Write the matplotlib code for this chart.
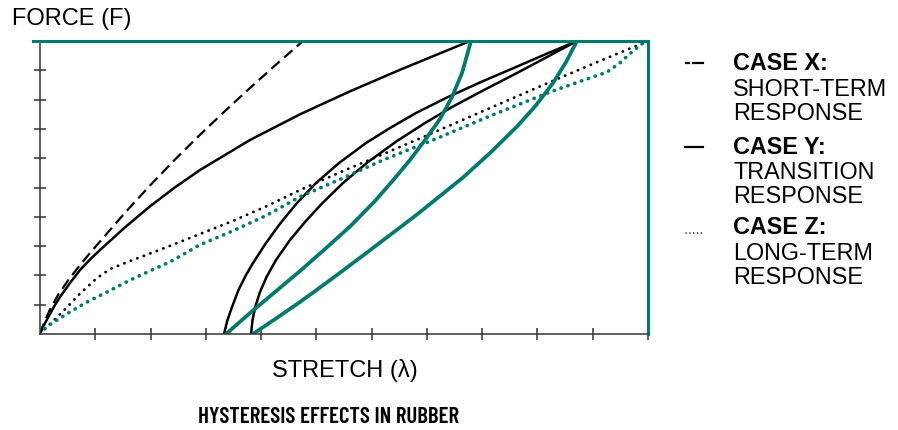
import matplotlib
matplotlib.use('Agg')
import matplotlib.pyplot as plt
from matplotlib.lines import Line2D

TEAL = '#00796e'
AXIS = '#333333'

# case X - short-term response (loading)
x_short = [0, 0.072, 0.181, 0.326, 0.507, 0.724, 0.905, 1.086, 1.538, 1.990, 2.443, 2.895, 3.347, 3.799, 4.252, 4.758]
f_short = [0, 0.375, 0.836, 1.331, 1.826, 2.355, 2.765, 3.157, 4.138, 5.068, 5.956, 6.800, 7.611, 8.396, 9.164, 10.0]

# case Y - transition response: loading
x_trans = [0, 0.054, 0.121, 0.181, 0.271, 0.362, 0.543, 0.724, 0.905, 1.086, 1.538, 1.990, 2.443, 2.895, 3.799, 4.704, 5.609, 6.513, 7.780]
f_trans = [0, 0.239, 0.478, 0.683, 0.990, 1.263, 1.741, 2.184, 2.543, 2.867, 3.642, 4.358, 5.007, 5.597, 6.621, 7.498, 8.283, 9.017, 10.0]

# case Y - reloading branches (black)
x_reload1 = [3.329, 3.392, 3.474, 3.591, 3.727, 3.854, 4.089, 4.352, 4.650, 4.994, 5.410, 5.898, 6.333, 6.803, 7.382, 7.979, 8.612, 9.155, 9.716]
f_reload1 = [0, 0.478, 0.922, 1.502, 2.014, 2.423, 3.106, 3.788, 4.471, 5.154, 5.836, 6.519, 7.031, 7.543, 8.089, 8.601, 9.113, 9.556, 10.0]
x_reload2 = [3.818, 3.845, 3.899, 3.980, 4.098, 4.270, 4.523, 4.795, 5.093, 5.482, 5.934, 6.459, 6.966, 7.454, 8.033, 8.630, 9.173, 9.716]
f_reload2 = [0, 0.478, 0.956, 1.433, 1.945, 2.526, 3.208, 3.823, 4.437, 5.154, 5.870, 6.587, 7.201, 7.747, 8.328, 8.908, 9.454, 10.0]

# unloading branches (teal)
x_unload1 = [3.365, 3.800, 4.252, 4.704, 5.157, 5.609, 6.061, 6.423, 6.694, 6.966, 7.237, 7.454, 7.635, 7.798]
f_unload1 = [0, 0.717, 1.433, 2.150, 2.901, 3.669, 4.539, 5.324, 5.939, 6.621, 7.338, 8.089, 8.908, 10.0]
x_unload2 = [3.853, 4.270, 4.704, 5.066, 5.482, 5.916, 6.369, 6.821, 7.237, 7.653, 8.142, 8.630, 8.956, 9.282, 9.517, 9.716]
f_unload2 = [0, 0.529, 1.092, 1.587, 2.167, 2.782, 3.430, 4.078, 4.710, 5.341, 6.177, 7.082, 7.765, 8.567, 9.283, 10.0]

# case Z - long-term response
x_long = [0, 0.18, 0.42, 0.72, 1.03, 1.27, 1.63, 2.30, 2.89, 3.49, 4.11, 4.70, 5.48, 6.21, 6.93, 8.14, 9.23, 10.13, 11.0]
f_long = [0, 0.34, 0.78, 1.37, 1.91, 2.22, 2.49, 2.97, 3.41, 3.86, 4.37, 4.91, 5.56, 6.14, 6.72, 7.71, 8.60, 9.32, 10.0]
x_long_un = [0, 0.05, 0.18, 0.31, 0.54, 0.85, 1.21, 1.63, 1.95, 2.35, 2.89, 3.49, 4.11, 4.70, 5.48, 6.21, 7.11, 8.14, 9.23, 9.95, 10.26, 10.49, 10.73, 10.96]
f_long_un = [0, 0.14, 0.32, 0.48, 0.75, 1.09, 1.43, 1.84, 2.12, 2.46, 3.04, 3.52, 4.06, 4.68, 5.32, 5.94, 6.62, 7.44, 8.26, 8.74, 8.94, 9.25, 9.66, 10.0]

x_ticks = list(range(1, 12))
f_ticks = list(range(1, 10))

legend_heads = ['CASE X:', 'CASE Y:', 'CASE Z:']
legend_lines = [['SHORT-TERM', 'RESPONSE'], ['TRANSITION', 'RESPONSE'], ['LONG-TERM', 'RESPONSE']]

plt.rcParams['font.family'] = ['Liberation Sans', 'DejaVu Sans']

W, H = 898, 430
fig = plt.figure(figsize=(W / 100, H / 100), dpi=100)
ax = fig.add_axes([40 / W, (H - 334) / H, 608 / W, 293 / H])

ax.plot(x_short, f_short, color='black', lw=1.6, linestyle=(0, (5, 2.6)))
ax.plot(x_trans, f_trans, color='black', lw=1.8)
ax.plot(x_reload1, f_reload1, color='black', lw=1.8)
ax.plot(x_reload2, f_reload2, color='black', lw=1.8)
ax.plot(x_long, f_long, color='black', lw=2.0, linestyle=(0, (0.1, 2.4)), dash_capstyle='round')
ax.plot(x_long_un, f_long_un, color=TEAL, lw=2.6, linestyle=(0, (0.1, 1.9)), dash_capstyle='round')
ax.plot(x_unload1, f_unload1, color=TEAL, lw=2.7)
ax.plot(x_unload2, f_unload2, color=TEAL, lw=2.7)

ax.set_xlim(0, 11)
ax.set_ylim(0, 10)
ax.set_xticks(x_ticks)
ax.set_yticks(f_ticks)
ax.tick_params(direction='inout', length=8.5, width=1.1, color=AXIS,
               labelbottom=False, labelleft=False)
for side in ['left', 'bottom']:
    ax.spines[side].set_color(AXIS)
    ax.spines[side].set_linewidth(1.1)
for side in ['top', 'right']:
    ax.spines[side].set_color(TEAL)
    ax.spines[side].set_linewidth(2.2)
ax.axhline(10, xmin=-0.012, xmax=1, color=TEAL, lw=2.2, clip_on=False)

fig.text(12 / W, 1 - 25 / H, 'FORCE (F)', fontsize=17, va='baseline', ha='left')
fig.text(345 / W, 1 - 377 / H, 'STRETCH (λ)', fontsize=17, va='baseline', ha='center')
fig.text(328 / W, 1 - 423 / H, 'HYSTERESIS EFFECTS IN RUBBER', fontsize=16.5,
         family=['Barlow Condensed', 'DejaVu Sans'], weight='semibold', va='baseline', ha='center')

# legend, built by hand
head_base = [70.5, 153.5, 234]
for i, head in enumerate(legend_heads):
    fig.text(733 / W, 1 - head_base[i] / H, head, fontsize=16.8, weight='bold', va='baseline')
    for j, line in enumerate(legend_lines[i]):
        fig.text(733 / W, 1 - (head_base[i] + 26 + 23.5 * j) / H, line, fontsize=16.8, va='baseline')

fig.add_artist(Line2D([686 / W, 689 / W], [1 - 63 / H] * 2, color='black', lw=1.6))
fig.add_artist(Line2D([693 / W, 703 / W], [1 - 63 / H] * 2, color='black', lw=1.6))
fig.add_artist(Line2D([685 / W, 703 / W], [1 - 147 / H] * 2, color='black', lw=1.6))
fig.add_artist(Line2D([686 / W, 703 / W], [1 - 233 / H] * 2, color='black', lw=1.1,
                      linestyle=(0, (0.1, 2.4)), dash_capstyle='round'))

fig.savefig('out.png', dpi=100)
